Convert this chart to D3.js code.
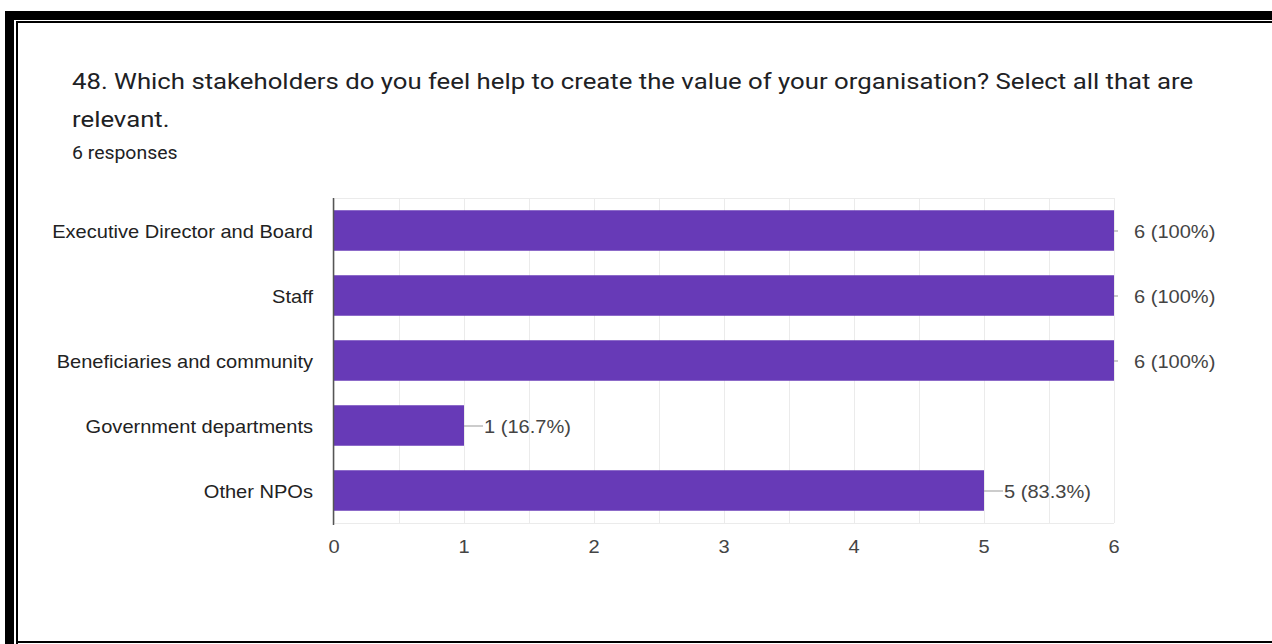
<!DOCTYPE html>
<html>
<head>
<meta charset="utf-8">
<script src="https://cdn.jsdelivr.net/npm/d3@7"></script>
<style>
  html, body { margin: 0; padding: 0; background: #fff; }
  svg { display: block; }
</style>
</head>
<body>
<svg id="chart" width="1272" height="644"></svg>
<script>
// Survey question and response data
const titleLines = [
  "48. Which stakeholders do you feel help to create the value of your organisation? Select all that are",
  "relevant."
];
const responseNote = "6 responses";
const categories = [
  "Executive Director and Board",
  "Staff",
  "Beneficiaries and community",
  "Government departments",
  "Other NPOs"
];
const counts = [6, 6, 6, 1, 5];
const percentLabels = ["100%", "100%", "100%", "16.7%", "83.3%"];
const xTicks = [0, 1, 2, 3, 4, 5, 6];
const gridSteps = [0, 0.5, 1, 1.5, 2, 2.5, 3, 3.5, 4, 4.5, 5, 5.5, 6];

const svg = d3.select("#chart");
const W = 1272, H = 644;

// Frame: heavy black edge with a thin inner rule
const frame = svg.append("g");
frame.append("rect").attr("x", 5).attr("y", 11).attr("width", W - 5).attr("height", 9).attr("fill", "#000");
frame.append("rect").attr("x", 5).attr("y", 11).attr("width", 9).attr("height", H - 11).attr("fill", "#000");
frame.append("rect").attr("x", 16).attr("y", 21).attr("width", W - 16).attr("height", 2).attr("fill", "#000");
frame.append("rect").attr("x", 16).attr("y", 21).attr("width", 2).attr("height", H - 21).attr("fill", "#000");
frame.append("rect").attr("x", 16).attr("y", 641).attr("width", W - 16).attr("height", 2).attr("fill", "#000");

// Horizontal stretch applied to text so glyph widths follow the layout
function stretchText(sel, sx, anchorX, anchorY) {
  sel.attr("transform", `translate(${anchorX},${anchorY}) scale(${sx},1)`)
     .attr("x", 0).attr("y", 0);
}

// Title block
const titleFont = "Roboto, 'Noto Sans', Arial, sans-serif";
titleLines.forEach((t, i) => {
  const el = svg.append("text")
    .attr("font-family", titleFont)
    .attr("font-size", 22)
    .attr("fill", "#202124")
    .text(t);
  stretchText(el, 1.17, 72, 89 + i * 38);
});
const note = svg.append("text")
  .attr("font-family", titleFont)
  .attr("font-size", 18)
  .attr("fill", "#202124")
  .text(responseNote);
stretchText(note, 1.08, 72, 159);

// Plot area
const margin = { left: 334, right: W - 1114, top: 198, bottom: H - 523 };
const x = d3.scaleLinear().domain([0, 6]).range([margin.left, 1114]);
const y = d3.scaleBand().domain(categories).range([margin.top, 523]).paddingInner(0.377).paddingOuter(0.1885);

const labelFont = "'Liberation Sans', Arial, sans-serif";
const sx = 1.115;

// Gridlines every half unit
svg.append("g").selectAll("line").data(gridSteps).join("line")
  .attr("x1", d => x(d) + 0.5).attr("x2", d => x(d) + 0.5)
  .attr("y1", margin.top).attr("y2", 523)
  .attr("stroke", "#ebebeb").attr("stroke-width", 1);
svg.append("line")
  .attr("x1", margin.left).attr("x2", 1114)
  .attr("y1", 198.5).attr("y2", 198.5)
  .attr("stroke", "#ebebeb");
svg.append("line")
  .attr("x1", margin.left).attr("x2", 1114)
  .attr("y1", 523.5).attr("y2", 523.5)
  .attr("stroke", "#ebebeb");

// Bars
svg.append("g").selectAll("rect").data(categories).join("rect")
  .attr("x", x(0))
  .attr("y", d => y(d))
  .attr("width", (d, i) => x(counts[i]) - x(0))
  .attr("height", y.bandwidth())
  .attr("fill", "#673ab7");

// Baseline axis
svg.append("line")
  .attr("x1", margin.left - 0.5).attr("x2", margin.left - 0.5)
  .attr("y1", margin.top).attr("y2", 525)
  .attr("stroke", "#555").attr("stroke-width", 1.5);

// Category labels
categories.forEach((c, i) => {
  const el = svg.append("text")
    .attr("font-family", labelFont)
    .attr("font-size", 18)
    .attr("fill", "#222")
    .attr("text-anchor", "end")
    .attr("dominant-baseline", "central")
    .text(c);
  stretchText(el, sx, 313, y(c) + y.bandwidth() / 2 + 1);
});

// Value labels with leader lines
categories.forEach((c, i) => {
  const cy = y(c) + y.bandwidth() / 2;
  const x0 = x(counts[i]);
  const full = counts[i] === 6;
  svg.append("line")
    .attr("x1", x0).attr("x2", full ? x0 + 4 : x0 + 19)
    .attr("y1", cy + 0.5).attr("y2", cy + 0.5)
    .attr("stroke", "#999").attr("stroke-width", 1);
  const el = svg.append("text")
    .attr("font-family", labelFont)
    .attr("font-size", 18)
    .attr("fill", "#444")
    .attr("dominant-baseline", "central")
    .text(`${counts[i]} (${percentLabels[i]})`);
  stretchText(el, sx, x0 + 20, cy + 1);
});

// X axis tick labels
xTicks.forEach(t => {
  const el = svg.append("text")
    .attr("font-family", labelFont)
    .attr("font-size", 18)
    .attr("fill", "#444")
    .attr("text-anchor", "middle")
    .attr("dominant-baseline", "central")
    .text(d3.format("d")(t));
  stretchText(el, sx, x(t), 547);
});
</script>
</body>
</html>
